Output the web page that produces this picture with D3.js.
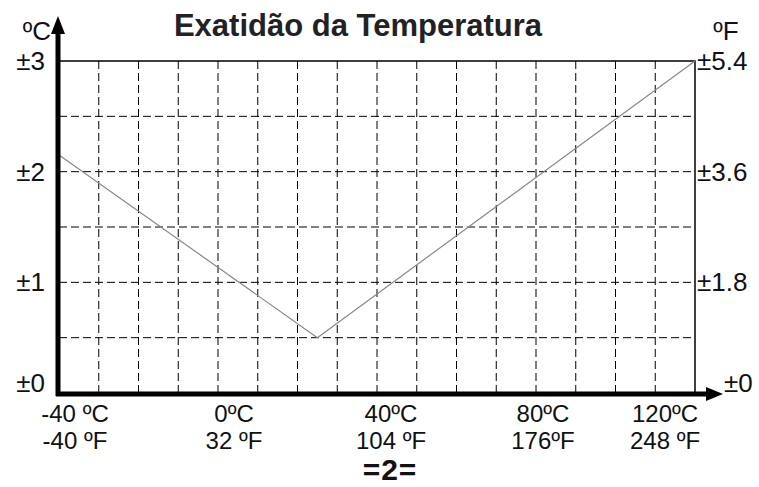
<!DOCTYPE html>
<html>
<head>
    <title>Exatidão da Temperatura</title>
    <script src="https://d3js.org/d3.v7.min.js"></script>
    <style>
        body { margin: 0; background: #fff; }
        text { font-family: "Liberation Sans", Arial, sans-serif; fill: #111; }
    </style>
</head>
<body>
    <div id="container"></div>

    <script>
        // accuracy curve (°C vs ±°C)
        var tempC = [-40, 25, 120];
        var accC = [2.15, 0.5, 3];

        var xTicksC = ["-40 ºC", "0ºC", "40ºC", "80ºC", "120ºC"];
        var xTicksF = ["-40 ºF", "32 ºF", "104 ºF", "176ºF", "248 ºF"];
        var xTickVals = [-40, 0, 40, 80, 120];
        var xLabelNudge = [16, 16, 14, 7, -30];
        var yTicksC = ["±0", "±1", "±2", "±3"];
        var yTicksF = ["±0", "±1.8", "±3.6", "±5.4"];
        var yTickVals = [0, 1, 2, 3];

        var width = 759, height = 487;
        var pLeft = 59, pRight = 695, pTop = 61, pBottom = 393;

        var svg = d3.select("#container").append("svg")
            .attr("width", width)
            .attr("height", height);

        var x = d3.scaleLinear().domain([-40, 120]).range([pLeft, pRight]);
        var y = d3.scaleLinear().domain([0, 3]).range([pBottom, pTop]);

        // dashed grid every 10 °C / 0.5 °C
        var grid = svg.append("g");
        grid.selectAll(".vg")
            .data(d3.range(-30, 120, 10))
            .enter().append("line")
            .attr("x1", d => x(d)).attr("x2", d => x(d))
            .attr("y1", pTop).attr("y2", pBottom)
            .attr("stroke", "#000").attr("stroke-width", 1)
            .attr("stroke-dasharray", "8,4");
        grid.selectAll(".hg")
            .data(d3.range(0.5, 3, 0.5))
            .enter().append("line")
            .attr("x1", pLeft).attr("x2", pRight)
            .attr("y1", d => y(d)).attr("y2", d => y(d))
            .attr("stroke", "#000").attr("stroke-width", 1)
            .attr("stroke-dasharray", "8,4");

        // solid top and right frame
        svg.append("path")
            .attr("d", "M" + pLeft + "," + y(3) + "H" + x(120) + "V" + pBottom)
            .attr("fill", "none").attr("stroke", "#000").attr("stroke-width", 1.5);

        // curve
        var line = d3.line().x(d => x(d[0])).y(d => y(d[1]));
        svg.append("path")
            .datum(d3.zip(tempC, accC))
            .attr("d", line)
            .attr("fill", "none")
            .attr("stroke", "#888")
            .attr("stroke-width", 1.2);

        // thick axes with arrows
        svg.append("line")
            .attr("x1", pLeft - 1).attr("x2", pLeft - 1)
            .attr("y1", pBottom + 3).attr("y2", 32)
            .attr("stroke", "#000").attr("stroke-width", 5);
        svg.append("path")
            .attr("d", "M" + (pLeft - 1) + ",16L" + (pLeft + 6) + ",34L" + (pLeft - 8) + ",34Z")
            .attr("fill", "#000");
        svg.append("line")
            .attr("x1", pLeft - 3).attr("x2", 710)
            .attr("y1", pBottom + 1).attr("y2", pBottom + 1)
            .attr("stroke", "#000").attr("stroke-width", 5);
        svg.append("path")
            .attr("d", "M723," + (pBottom + 1) + "L706," + (pBottom - 6) + "L706," + (pBottom + 8) + "Z")
            .attr("fill", "#000");

        // title
        svg.append("text")
            .attr("x", 358).attr("y", 36)
            .attr("text-anchor", "middle")
            .style("font-size", "31px").style("font-weight", "bold")
            .style("fill", "#222")
            .text("Exatidão da Temperatura");

        // unit labels
        svg.append("text").attr("x", 51).attr("y", 40)
            .attr("text-anchor", "end").style("font-size", "26px").text("ºC");
        svg.append("text").attr("x", 726).attr("y", 40)
            .attr("text-anchor", "middle").style("font-size", "26px").text("ºF");

        // left tick labels
        svg.selectAll(".yl")
            .data(yTickVals)
            .enter().append("text")
            .attr("x", 45)
            .attr("y", (d, i) => y(d) + (i === 0 ? -1 : 9))
            .attr("text-anchor", "end")
            .style("font-size", "26px")
            .text((d, i) => yTicksC[i]);

        // right tick labels
        svg.selectAll(".yr")
            .data(yTickVals)
            .enter().append("text")
            .attr("x", (d, i) => i === 0 ? 724 : 697)
            .attr("y", (d, i) => y(d) + (i === 0 ? -1 : 9))
            .style("font-size", "26px")
            .text((d, i) => yTicksF[i]);

        // bottom tick labels
        var xl = svg.selectAll(".xl")
            .data(xTickVals)
            .enter().append("g")
            .attr("transform", (d, i) => "translate(" + (x(d) + xLabelNudge[i]) + ",0)");
        xl.append("text").attr("y", 422).attr("text-anchor", "middle")
            .style("font-size", "24px").text((d, i) => xTicksC[i]);
        xl.append("text").attr("y", 449).attr("text-anchor", "middle")
            .style("font-size", "24px").text((d, i) => xTicksF[i]);

        svg.append("text")
            .attr("x", 390).attr("y", 480)
            .attr("text-anchor", "middle")
            .style("font-size", "30px").style("font-weight", "bold")
            .style("letter-spacing", "1px")
            .text("=2=");
    </script>
</body>
</html>
